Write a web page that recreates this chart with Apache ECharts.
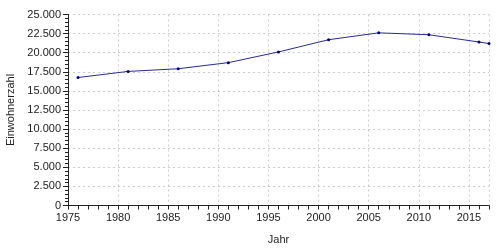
<!DOCTYPE html>
<html><head><meta charset="utf-8">
<script src="https://cdn.jsdelivr.net/npm/echarts@6/dist/echarts.min.js"></script>
<style>html,body{margin:0;padding:0;background:#fff}#c{width:500px;height:250px}</style>
</head><body><div id="c"></div>
<script>
var years = [1976, 1981, 1986, 1991, 1996, 2001, 2006, 2011, 2016, 2017];
var population = [16750, 17550, 17900, 18700, 20100, 21700, 22600, 22350, 21400, 21200];
var xMajorTicks = [1975, 1980, 1985, 1990, 1995, 2000, 2005, 2010, 2015];
var xTitle = 'Jahr';
var yTitle = 'Einwohnerzahl';

function fmt(v){ return String(v).replace(/\B(?=(\d{3})+(?!\d))/g, '.'); }

var chart = echarts.init(document.getElementById('c'), null, {renderer:'canvas'});
var font = 'Liberation Sans, Arial, sans-serif';
var gridTop = 14.5, gridBottom = 44.5;
chart.setOption({
  animation:false,
  grid:{left:68, right:11, top:gridTop, bottom:gridBottom, containLabel:false, outerBoundsMode:'none'},
  xAxis:[{
    type:'value', min:1975, max:2017, interval:1, position:'bottom',
    name:xTitle, nameLocation:'middle', nameGap:29,
    nameTextStyle:{color:'#222', fontSize:11, fontFamily:font},
    axisLine:{show:true, onZero:false, lineStyle:{color:'#222', width:1}},
    axisTick:{show:true, length:4, lineStyle:{color:'#222'}},
    axisLabel:{customValues:xMajorTicks, color:'#222', fontSize:11, fontFamily:font, margin:7, formatter:function(v){return String(v);}},
    splitLine:{show:false},
    minorTick:{show:false}
  },{
    type:'value', min:1975, max:2017, interval:5, position:'top',
    axisLine:{show:false, onZero:false},
    axisTick:{show:false},
    axisLabel:{show:false},
    splitLine:{show:true, lineStyle:{color:'#ccc', type:[2,3], width:1}}
  }],
  yAxis:{
    type:'value', min:0, max:25000, interval:2500,
    name:yTitle, nameLocation:'middle', nameGap:50, nameRotate:90,
    nameTextStyle:{color:'#222', fontSize:11, fontFamily:font},
    axisLine:{show:true, lineStyle:{color:'#222', width:1}},
    axisTick:{show:true, length:5, lineStyle:{color:'#222'}},
    minorTick:{show:true, splitNumber:5, length:3, lineStyle:{color:'#222'}},
    axisLabel:{color:'#222', fontSize:11, fontFamily:font, margin:7, formatter:fmt},
    splitLine:{show:true, lineStyle:{color:'#ccc', type:[2,3], width:1}}
  },
  series:[{
    type:'line', xAxisIndex:0,
    data: years.map(function(y,i){return [y, population[i]];}),
    symbol:'circle', symbolSize:3,
    lineStyle:{color:'#2a2a95', width:1},
    itemStyle:{color:'#000080'}
  },{
    type:'line', xAxisIndex:1, data:[[1975,0]], symbolSize:0, silent:true
  }]
});
</script></body></html>
